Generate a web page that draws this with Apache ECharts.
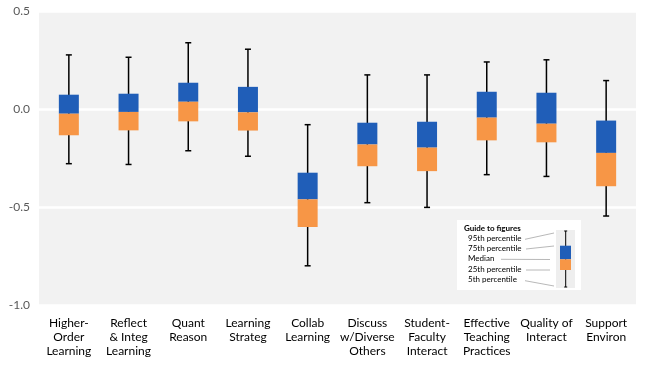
<!DOCTYPE html>
<html><head><meta charset="utf-8">
<script src="https://cdn.jsdelivr.net/npm/echarts@6/dist/echarts.min.js"></script>
<style>html,body{margin:0;padding:0;background:#fff}#c{width:648px;height:365px}</style>
</head><body><div id="c"></div>
<script>
const categories = ["Higher-\nOrder\nLearning","Reflect\n& Integ\nLearning","Quant\nReason","Learning\nStrateg","Collab\nLearning","Discuss\nw/Diverse\nOthers","Student-\nFaculty\nInteract","Effective\nTeaching\nPractices","Quality of\nInteract","Support\nEnviron"];
const p95 =    [0.276, 0.264, 0.338, 0.305, -0.080, 0.174, 0.174, 0.240, 0.251, 0.145];
const p75 =    [0.073, 0.078, 0.134, 0.113, -0.325, -0.070, -0.065, 0.088, 0.083, -0.059];
const median = [-0.024, -0.015, 0.037, -0.017, -0.461, -0.181, -0.197, -0.044, -0.075, -0.224];
const p25 =    [-0.134, -0.109, -0.063, -0.110, -0.602, -0.292, -0.317, -0.160, -0.170, -0.394];
const p5 =     [-0.279, -0.283, -0.213, -0.241, -0.800, -0.478, -0.502, -0.335, -0.344, -0.546];
const yTicks = {min: -1.0, max: 0.5, interval: 0.5};

const BLUE = '#205EB8', ORANGE = '#F79646';
const data = categories.map((c, i) => [i, p95[i], p75[i], median[i], p25[i], p5[i]]);
const font = 'Lato, "Liberation Sans", sans-serif';

const chart = echarts.init(document.getElementById('c'));
chart.setOption({
  animation: false,
  grid: {left: 39, right: 12, top: 11, bottom: 60, show: true, backgroundColor: '#f2f2f2', borderWidth: 0},
  xAxis: {
    type: 'category', data: categories,
    axisLine: {show: false}, axisTick: {show: false}, splitLine: {show: false},
    axisLabel: {interval: 0, margin: 11, color: '#000', fontSize: 12, lineHeight: 14, fontFamily: font}
  },
  yAxis: {
    type: 'value', min: yTicks.min, max: yTicks.max, interval: yTicks.interval,
    axisLine: {show: false}, axisTick: {show: false},
    splitLine: {show: true, lineStyle: {color: '#ffffff', width: 2.5}},
    axisLabel: {color: '#595959', fontSize: 12, margin: 9, fontFamily: font, formatter: v => v.toFixed(1)}
  },
  series: [{
    type: 'custom',
    data: data,
    encode: {x: 0, y: [1, 2, 3, 4, 5]},
    renderItem: function (params, api) {
      const x = api.value(0);
      const top = api.coord([x, api.value(1)]);
      const q3 = api.coord([x, api.value(2)]);
      const md = api.coord([x, api.value(3)]);
      const q1 = api.coord([x, api.value(4)]);
      const bot = api.coord([x, api.value(5)]);
      const bw = api.size([1, 0])[0] * 0.335;
      const cx = top[0];
      const cap = 3;
      const ls = {stroke: '#000', lineWidth: 1.5};
      return {type: 'group', children: [
        {type: 'line', shape: {x1: cx, y1: top[1], x2: cx, y2: bot[1]}, style: ls},
        {type: 'line', shape: {x1: cx - cap, y1: top[1], x2: cx + cap, y2: top[1]}, style: ls},
        {type: 'line', shape: {x1: cx - cap, y1: bot[1], x2: cx + cap, y2: bot[1]}, style: ls},
        {type: 'rect', shape: {x: cx - bw / 2, y: q3[1], width: bw, height: md[1] - q3[1]}, style: {fill: BLUE}},
        {type: 'rect', shape: {x: cx - bw / 2, y: md[1], width: bw, height: q1[1] - md[1]}, style: {fill: ORANGE}}
      ]};
    }
  }],
  graphic: [
    {type: 'group', left: 457, top: 220, children: [
      {type: 'rect', shape: {x: 0, y: 0, width: 124, height: 70}, style: {fill: '#ffffff'}},
      {type: 'text', x: 7, y: 4, style: {text: 'Guide to figures', font: 'bold 8px ' + font, fill: '#000'}},
      {type: 'text', x: 11, y: 14.5, style: {text: '95th percentile', font: '8px ' + font, fill: '#000'}},
      {type: 'text', x: 11, y: 24.5, style: {text: '75th percentile', font: '8px ' + font, fill: '#000'}},
      {type: 'text', x: 11, y: 34.5, style: {text: 'Median', font: '8px ' + font, fill: '#000'}},
      {type: 'text', x: 11, y: 45, style: {text: '25th percentile', font: '8px ' + font, fill: '#000'}},
      {type: 'text', x: 11, y: 55.5, style: {text: '5th percentile', font: '8px ' + font, fill: '#000'}},
      {type: 'line', shape: {x1: 68, y1: 19.3, x2: 97, y2: 13}, style: {stroke: '#a6a6a6', lineWidth: 0.8}},
      {type: 'line', shape: {x1: 69, y1: 29, x2: 97, y2: 26}, style: {stroke: '#a6a6a6', lineWidth: 0.8}},
      {type: 'line', shape: {x1: 44, y1: 39.3, x2: 93, y2: 39.5}, style: {stroke: '#a6a6a6', lineWidth: 0.8}},
      {type: 'line', shape: {x1: 69, y1: 50, x2: 93, y2: 50}, style: {stroke: '#a6a6a6', lineWidth: 0.8}},
      {type: 'line', shape: {x1: 68, y1: 60.7, x2: 97, y2: 66}, style: {stroke: '#a6a6a6', lineWidth: 0.8}},
      {type: 'rect', shape: {x: 99, y: 10, width: 19, height: 58}, style: {fill: '#eeeeee'}},
      {type: 'line', shape: {x1: 108.7, y1: 11, x2: 108.7, y2: 67}, style: {stroke: '#000', lineWidth: 1}},
      {type: 'line', shape: {x1: 107.2, y1: 11, x2: 110.2, y2: 11}, style: {stroke: '#000', lineWidth: 1}},
      {type: 'line', shape: {x1: 107.2, y1: 67, x2: 110.2, y2: 67}, style: {stroke: '#000', lineWidth: 1}},
      {type: 'rect', shape: {x: 103, y: 25.7, width: 11, height: 13.6}, style: {fill: BLUE}},
      {type: 'rect', shape: {x: 103, y: 39.3, width: 11, height: 10.7}, style: {fill: ORANGE}}
    ]}
  ]
});
</script></body></html>
